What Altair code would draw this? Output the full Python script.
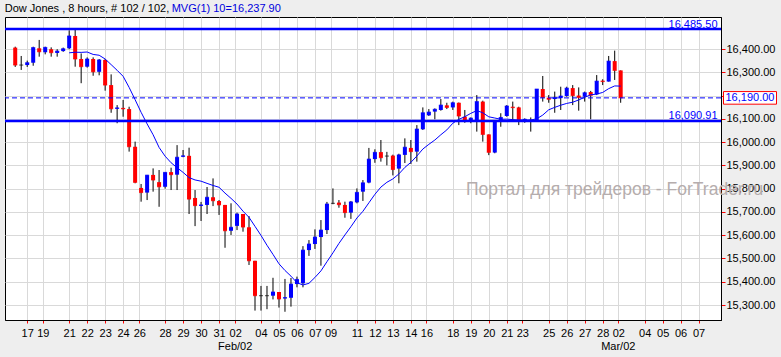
import altair as alt
import pandas as pd

# ---- candle data (8-hour candles) ----
opens = [16406, 16331, 16331, 16341, 16403, 16386, 16399, 16383, 16391, 16403,
         16456, 16357, 16324, 16357, 16302, 16353, 16245, 16143, 16147, 16142,
         15980, 15803, 15783, 15859, 15828, 15808, 15871, 15860, 15937, 15941,
         15760, 15726, 15730, 15763, 15747, 15730, 15619, 15640, 15691, 15634,
         15490, 15340, 15340, 15340, 15356, 15328, 15331, 15390, 15393, 15536,
         15562, 15592, 15622, 15737, 15740, 15730, 15697, 15741, 15787, 15826,
         15927, 15957, 15940, 15942, 15886, 15945, 15975, 15959, 16055, 16115,
         16131, 16138, 16158, 16149, 16169, 16109, 16092, 16095, 16174, 16033,
         15955, 16089, 16112, 16152, 16149, 16088, 16093, 16092, 16228, 16191,
         16185, 16189, 16198, 16232, 16200, 16195, 16215, 16205, 16264, 16260,
         16348, 16308]
highs = [16410, 16370, 16350, 16410, 16439, 16410, 16407, 16399, 16406, 16480,
         16485.5, 16381, 16364, 16364, 16357, 16357, 16291, 16159, 16181, 16152,
         16002, 15820, 15859, 15887, 15880, 15870, 15890, 15987, 15966, 15976,
         15794, 15743, 15807, 15844, 15751, 15730, 15737, 15697, 15691, 15682,
         15490, 15382, 15382, 15417, 15356, 15412, 15416, 15422, 15553, 15579,
         15625, 15665, 15743, 15801, 15751, 15744, 15747, 15801, 15837, 15975,
         15969, 16009, 15958, 15946, 15950, 16016, 16009, 16073, 16149, 16142,
         16145, 16185, 16169, 16174, 16170, 16138, 16106, 16202, 16178, 16033,
         16088, 16124, 16159, 16174, 16152, 16102, 16106, 16228, 16284, 16202,
         16217, 16238, 16238, 16245, 16235, 16217, 16220, 16288, 16270, 16370,
         16393, 16308]
lows = [16323, 16310, 16323, 16328, 16367, 16377, 16367, 16367, 16388, 16399,
        16324, 16253, 16320, 16285, 16287, 16221, 16126, 16081, 16109, 15959,
        15823, 15744, 15751, 15787, 15722, 15800, 15794, 15794, 15935, 15691,
        15639, 15661, 15691, 15725, 15687, 15546, 15601, 15622, 15615, 15472,
        15276, 15276, 15282, 15324, 15289, 15271, 15293, 15376, 15376, 15511,
        15541, 15469, 15605, 15733, 15718, 15675, 15670, 15737, 15747, 15823,
        15911, 15916, 15900, 15857, 15823, 15910, 15906, 15916, 16052, 16112,
        16098, 16135, 16142, 16138, 16073, 16083, 16081, 16045, 16002, 15944,
        15952, 16066, 16109, 16088, 16073, 16083, 16045, 16088, 16174, 16169,
        16126, 16138, 16195, 16159, 16135, 16174, 16098, 16202, 16245, 16260,
        16267, 16169]
closes = [16331, 16331, 16341, 16406, 16388, 16407, 16384, 16391, 16401, 16456,
          16357, 16324, 16357, 16302, 16353, 16245, 16143, 16147, 16143, 15980,
          15827, 15783, 15858, 15837, 15808, 15870, 15860, 15935, 15941, 15755,
          15727, 15730, 15763, 15748, 15730, 15619, 15634, 15691, 15635, 15490,
          15340, 15340, 15340, 15356, 15326, 15332, 15390, 15410, 15536, 15562,
          15592, 15622, 15734, 15737, 15731, 15697, 15743, 15784, 15825, 15927,
          15956, 15933, 15940, 15882, 15945, 15978, 15959, 16056, 16126, 16129,
          16141, 16159, 16149, 16169, 16112, 16091, 16103, 16174, 16033, 15956,
          16088, 16106, 16155, 16148, 16095, 16098, 16095, 16228, 16192, 16184,
          16192, 16198, 16232, 16200, 16192, 16212, 16201, 16262, 16260, 16348,
          16308, 16190]

# ---- axis ticks / labels ----
day_ticks = [2, 4.6, 9, 12, 15, 18, 20.7, 25, 28, 31, 34, 36.7, 41, 44, 47, 50,
             52.6, 57, 60, 63, 66, 68.6, 73, 76, 79, 82, 84.6, 89, 92, 95, 98,
             100.6, 105, 108, 111, 114]
day_labels = ["17", "19", "21", "22", "23", "24", "26", "28", "29", "30", "31",
              "02", "04", "05", "06", "07", "09", "11", "12", "13", "14", "16",
              "18", "19", "20", "21", "23", "25", "26", "27", "28", "02", "04",
              "05", "06", "07"]
month_ticks = [36.7, 100.6]
month_labels = ["Feb/02", "Mar/02"]
price_ticks = list(range(15300, 16401, 100))

level_values = [16485.50, 16090.91]
level_labels = ["16,485.50", "16,090.91"]
last_price = [16190.00]
last_label = ["16,190.00"]
title_black = ["Dow Jones , 8 hours, # 102 / 102, "]
title_blue = ["MVG(1) 10=16,237.90"]
watermark = ["Портал для трейдеров - ForTrader.ru"]

FONT = "Liberation Sans"
BLUE = "#0000ff"
RED = "#ff0000"

df = pd.DataFrame({"i": list(range(len(opens))), "open": opens, "high": highs,
                   "low": lows, "close": closes})

xs = alt.Scale(domain=[-0.87, 116.9], nice=False, zero=False)
ys = alt.Scale(domain=[15235.6, 16537.5], nice=False, zero=False)

tick_arr = "[" + ",".join(str(t) for t in day_ticks) + "]"
lab_arr = "[" + ",".join("'" + l + "'" for l in day_labels) + "]"
x_axis = alt.Axis(values=day_ticks, labelExpr=f"{lab_arr}[indexof({tick_arr}, datum.value)]",
                  tickColor=RED, tickSize=3, labelPadding=4, grid=True,
                  gridColor="#d9d9d9", domainColor="#000000", labelColor="#000000",
                  labelFont=FONT, labelFontSize=11, labelOverlap=False,
                  labelFlush=False, title=None)
y_axis = alt.Axis(orient="right", values=price_ticks,
                  labelExpr="datum.value == 16200 ? '' : format(datum.value, ',.2f')",
                  tickColor=RED, tickSize=4, labelPadding=1, grid=True,
                  gridColor="#d9d9d9", domainColor="#000000", labelColor="#000000",
                  labelFont=FONT, labelFontSize=11, labelOverlap=False,
                  labelFlush=False, title=None)


def X(f):
    return alt.X(f, type="quantitative", scale=xs, axis=x_axis)


def Y(f):
    return alt.Y(f, type="quantitative", scale=ys, axis=y_axis)


base = alt.Chart(df)
colored = base.transform_calculate(
    col="datum.close > datum.open ? '#0000ff' : (datum.close < datum.open ? '#ff0000' : '#000000')"
)

wicks = base.mark_rule(color="#000000", strokeWidth=1).encode(
    x=X("i"), y=Y("low"), y2="high:Q")
bodies = colored.mark_bar(size=4).encode(
    x=X("i"), y=Y("open"), y2="close:Q", color=alt.Color("col:N", scale=None))
closeticks = colored.mark_tick(orient="horizontal", size=4, thickness=1).encode(
    x=X("i"), y=Y("close"), color=alt.Color("col:N", scale=None))

ma = base.transform_window(
    ma="mean(close)", frame=[-9, 0], sort=[alt.SortField("i")]
).transform_filter("datum.i >= 9").mark_line(color=BLUE, strokeWidth=1).encode(
    x=X("i"), y=Y("ma"))

lev_df = pd.DataFrame({"v": level_values, "lab": level_labels})
levels = alt.Chart(lev_df).mark_rule(color=BLUE, strokeWidth=2.5).encode(y=Y("v"))
level_text = alt.Chart(lev_df).mark_text(
    align="right", baseline="alphabetic", dy=-1.5, color=BLUE, fontSize=11, font=FONT
).encode(y=Y("v"), x=alt.value(712.5), text="lab:N")

last_df = pd.DataFrame({"v": last_price, "lab": last_label})
last_line = alt.Chart(last_df).mark_rule(color=BLUE, strokeWidth=1, strokeDash=[5, 3]).encode(y=Y("v"))
last_box = alt.Chart(last_df).mark_rect(
    fill="#ffffff", stroke=RED, strokeWidth=1, yOffset=-6.3, y2Offset=6.3
).encode(y=Y("v"), y2="v:Q", x=alt.value(718.5), x2=alt.value(771.5))
last_text = alt.Chart(last_df).mark_text(
    align="left", baseline="middle", color=BLUE, fontSize=11, font=FONT
).encode(y=Y("v"), x=alt.value(720.5), text="lab:N")

month_df = pd.DataFrame({"t": month_ticks, "lab": month_labels})
months = alt.Chart(month_df).mark_text(
    align="center", baseline="alphabetic", color="#000000", fontSize=11, font=FONT
).encode(x=X("t"), y=alt.value(332.6), text="lab:N")

t1 = alt.Chart(pd.DataFrame({"t": title_black})).mark_text(
    align="left", baseline="alphabetic", color="#000000", fontSize=11, font=FONT
).encode(x=alt.value(-0.3), y=alt.value(-4.7), text="t:N")
t2 = alt.Chart(pd.DataFrame({"t": title_blue})).mark_text(
    align="left", baseline="alphabetic", color="#0000dd", fontSize=11, font=FONT
).encode(x=alt.value(166.7), y=alt.value(-4.7), text="t:N")

wm = alt.Chart(pd.DataFrame({"t": watermark})).mark_text(
    align="left", baseline="alphabetic", color="#b5adad", fontSize=17.5, font=FONT
).encode(x=alt.value(461), y=alt.value(178), text="t:N")

chart = alt.layer(
    wicks, bodies, closeticks, ma, levels, last_line, level_text,
    last_box, last_text, months, t1, t2, wm
).properties(
    width=716, height=303,
    autosize=alt.AutoSizeParams(type="none"),
    padding={"left": 5, "top": 17, "right": 60, "bottom": 37},
    background="#eeeeee",
).configure_view(fill="#ffffff", stroke="#000000", strokeWidth=1)

chart.save("out.html", embed_options={"renderer": "svg", "actions": False})
